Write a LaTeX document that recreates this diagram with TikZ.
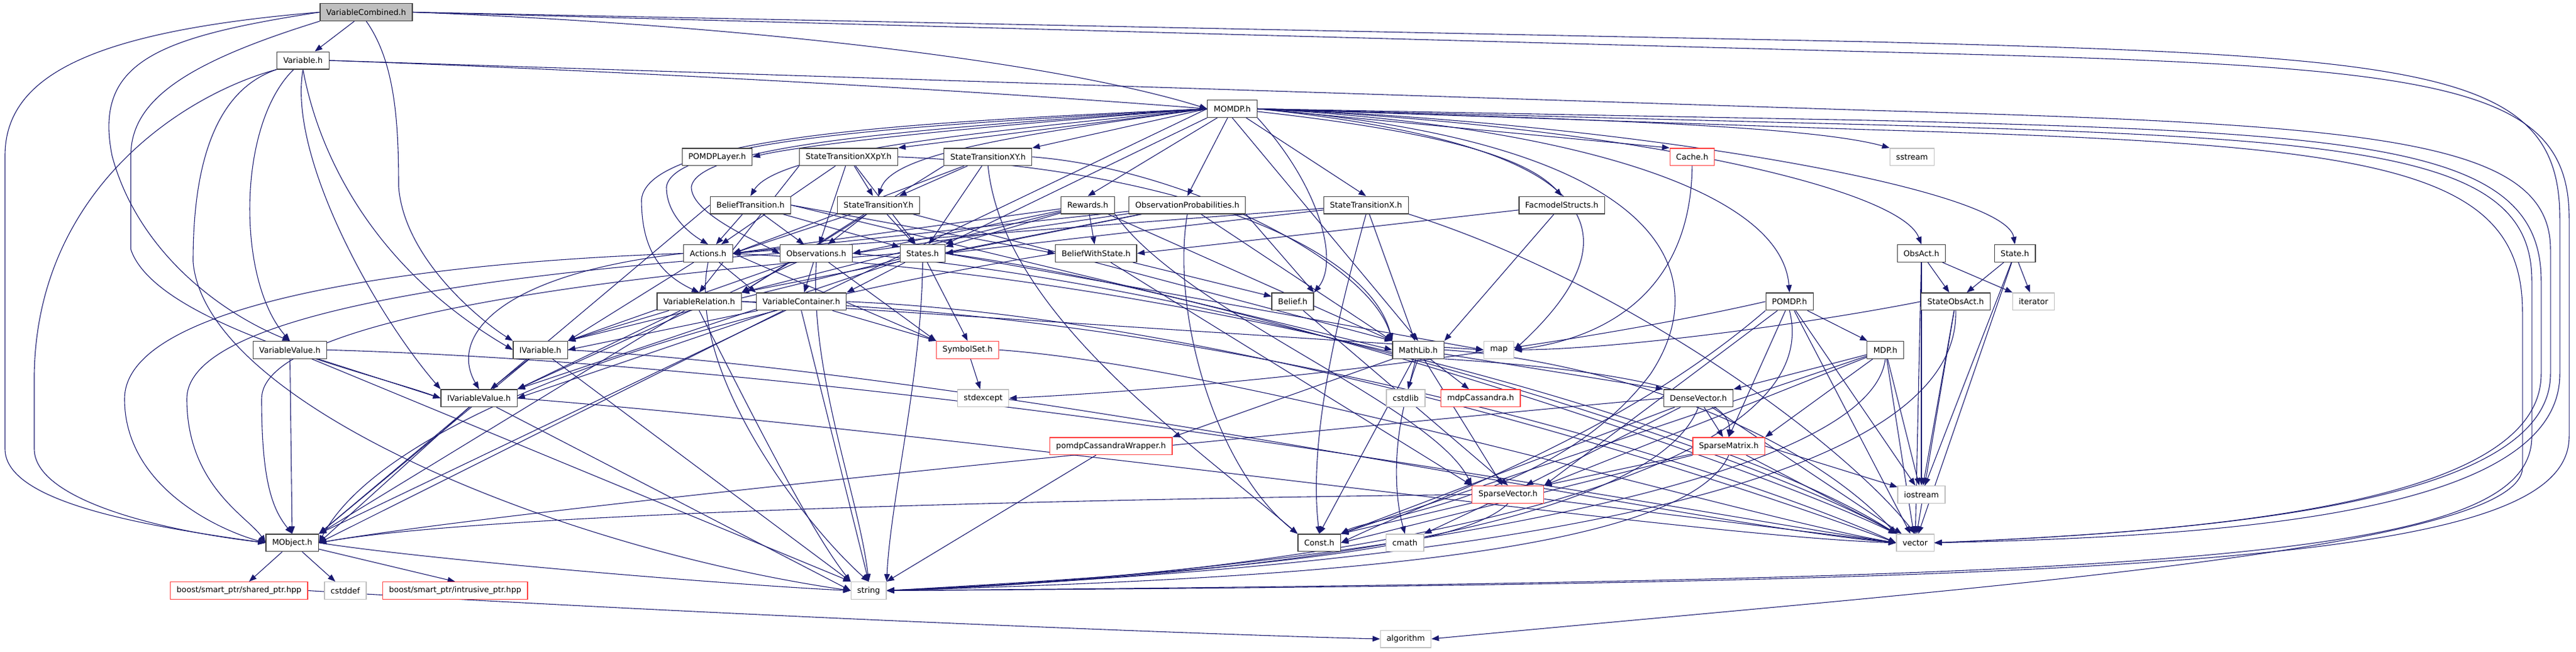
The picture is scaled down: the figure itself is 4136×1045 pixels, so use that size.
\documentclass[tikz,border=0pt]{standalone}
\usepackage{fontspec}
\setmainfont{DejaVu Sans}
\usetikzlibrary{arrows.meta}
\definecolor{edgec}{HTML}{191970}
\definecolor{boxc}{HTML}{404040}
\definecolor{redc}{HTML}{FF4040}
\definecolor{grayc}{HTML}{BFBFBF}
\pgfdeclarelayer{back}
\pgfdeclarelayer{bg}
\pgfsetlayers{back,bg,main}
\begin{document}
\begin{tikzpicture}[x=1pt,y=-1pt,
  every node/.style={font=\fontsize{12.7}{15}\selectfont, inner xsep=10pt, inner ysep=0pt, minimum height=27.7pt, anchor=center},
  nb/.style={draw=boxc, line width=1.3pt, fill=white},
  nr/.style={draw=redc, line width=1.3pt, fill=white},
  ng/.style={draw=grayc, line width=1.3pt, fill=white},
  nroot/.style={draw=boxc, line width=1.3pt, fill=grayc},
  edge/.style={draw=edgec, line width=1.1pt, -{Triangle[length=12pt,width=9pt]}},
]
\begin{pgfonlayer}{back}
\fill[white] (0,0) rectangle (4136,1045);
\end{pgfonlayer}
\useasboundingbox (0,0) rectangle (4136,1045);
% row 0-2
\node[nroot] (vc) at (588,19.5) {VariableCombined.h};
\node[nb] (var) at (486.5,97) {Variable.h};
\node[nb] (momdp) at (1978.5,174.5) {MOMDP.h};
% row 3
\node[nb] (player) at (1151.5,251.7) {POMDPLayer.h};
\node[nb] (stxxpy) at (1362.5,251.7) {StateTransitionXXpY.h};
\node[nb] (stxy) at (1586.3,251.7) {StateTransitionXY.h};
\node[nr] (cache) at (2717,251.7) {Cache.h};
\node[ng] (sstream) at (3070,251.7) {sstream};
% row 4
\node[nb] (btrans) at (1205,329) {BeliefTransition.h};
\node[nb] (sty) at (1410.6,329) {StateTransitionY.h};
\node[nb] (rewards) at (1746.5,329) {Rewards.h};
\node[nb] (obsprob) at (1906.3,329) {ObservationProbabilities.h};
\node[nb] (stx) at (2193.3,329) {StateTransitionX.h};
\node[nb] (facm) at (2507.6,329) {FacmodelStructs.h};
% row 5
\node[nb] (actions) at (1136.9,406.5) {Actions.h};
\node[nb] (observations) at (1310.6,406.5) {Observations.h};
\node[nb] (states) at (1481.3,406.5) {States.h};
\node[nb] (bws) at (1759.9,406.5) {BeliefWithState.h};
\node[nb] (obsact) at (3085,406.5) {ObsAct.h};
\node[nb] (state) at (3235,406.5) {State.h};
% row 6
\node[nb] (varrel) at (1122.6,483.8) {VariableRelation.h};
\node[nb] (varcont) at (1286.6,483.8) {VariableContainer.h};
\node[nb] (belief) at (2075.6,483.8) {Belief.h};
\node[nb] (pomdp) at (2873.2,483.8) {POMDP.h};
\node[nb] (soa) at (3140,483.8) {StateObsAct.h};
\node[ng] (iterator) at (3265,483.8) {iterator};
% row 7
\node[nb] (vval) at (465.4,561.3) {VariableValue.h};
\node[nb] (ivar) at (867.6,561.3) {IVariable.h};
\node[nr] (symset) at (1553.6,561.3) {SymbolSet.h};
\node[nb] (mathlib) at (2277.1,561.3) {MathLib.h};
\node[ng] (map) at (2406.6,561.3) {map};
\node[nb] (mdp) at (3027,561.3) {MDP.h};
% row 8
\node[nb] (ivval) at (769.1,638.8) {IVariableValue.h};
\node[ng] (stdexcept) at (1578.6,638.8) {stdexcept};
\node[ng] (cstdlib) at (2257,638.8) {cstdlib};
\node[nr] (mdpcass) at (2377.3,638.8) {mdpCassandra.h};
\node[nb] (dense) at (2726.9,638.8) {DenseVector.h};
% row 9
\node[nr] (pcw) at (1783.8,715.7) {pomdpCassandraWrapper.h};
\node[nr] (smat) at (2775.7,715.7) {SparseMatrix.h};
% row 10
\node[nr] (svec) at (2421.2,793.3) {SparseVector.h};
\node[ng] (iostream) at (3085,793.3) {iostream};
% row 11
\node[nb] (mobj) at (469.2,870.8) {MObject.h};
\node[nb] (const) at (2118.2,870.8) {Const.h};
\node[ng] (cmath) at (2255.8,870.8) {cmath};
\node[ng] (vector) at (3075,870.8) {vector};
% row 12
\node[nr] (shptr) at (383.8,947.5) {boost/smart\_ptr/shared\_ptr.hpp};
\node[ng] (cstddef) at (554.4,947.5) {cstddef};
\node[nr] (intptr) at (730.7,947.5) {boost/smart\_ptr/intrusive\_ptr.hpp};
\node[ng] (string) at (1394.7,947.5) {string};
% row 13
\node[ng] (algorithm) at (2257,1025) {algorithm};

\begin{pgfonlayer}{bg}
% VariableCombined
\draw[edge] (vc) -- (var);
\draw[edge] (vc.east) .. controls (1200,40) and (1700,100) .. (momdp.west);
\draw[edge] (vc.west) .. controls (150,50) and (8,120) .. (8,250) -- (8,720) .. controls (8,800) and (200,840) .. (mobj.west);
\draw[edge] (vc.west) .. controls (250,60) and (150,100) .. (180,250) .. controls (220,400) and (350,500) .. (vval.north);
\draw[edge] (vc.south west) .. controls (300,100) and (210,160) .. (210,250) -- (210,400) .. controls (250,520) and (600,600) .. (ivval.west);
\draw[edge] (vc.south) .. controls (635,100) and (640,200) .. (640,300) .. controls (650,420) and (780,520) .. (ivar.north west);
\draw[edge] (vc.east) -- (3000,67) .. controls (3900,90) and (4110,110) .. (4110,350) -- (4110,600) .. controls (4110,820) and (3600,860) .. (vector.east);
\draw[edge] (vc.east) -- (3000,83) .. controls (3900,105) and (4125,125) .. (4125,350) -- (4125,700) .. controls (4125,900) and (3500,935) .. (string.east);
% Variable
\draw[edge] (var.east) .. controls (900,110) and (1500,140) .. (momdp.west);
\draw[edge] (var.south west) .. controls (300,150) and (60,300) .. (55,600) -- (55,720) .. controls (55,800) and (250,850) .. (mobj.west);
\draw[edge] (var.south west) .. controls (330,150) and (310,300) .. (310,420) .. controls (330,650) and (900,880) .. (string.west);
\draw[edge] (var) .. controls (380,200) and (380,450) .. (vval.north);
\draw[edge] (var.south) .. controls (462,250) and (600,500) .. (ivval.north west);
\draw[edge] (var.south) .. controls (512,250) and (600,430) .. (ivar.west);
\draw[edge] (var.east) -- (3000,177) .. controls (3800,200) and (4095,220) .. (4095,400) -- (4095,600) .. controls (4095,800) and (3600,850) .. (vector.east);
% MOMDP
\draw[edge] (momdp.west) .. controls (1600,200) and (1300,230) .. (player.east);
\draw[edge] (momdp.west) -- (stxxpy.north east);
\draw[edge] (momdp.west) -- (stxy.north east);
\draw[edge] (momdp.west) .. controls (1600,220) and (1430,250) .. (sty.north);
\draw[edge] (momdp.west) .. controls (1600,210) and (1250,240) .. (btrans.north);
\draw[edge] (momdp) -- (rewards.north);
\draw[edge] (momdp) -- (obsprob.north);
\draw[edge] (momdp) -- (stx.north);
\draw[edge] (momdp) .. controls (2300,210) and (2450,250) .. (facm.north);
\draw[edge] (momdp.east) -- (cache.north west);
\draw[edge] (momdp.east) .. controls (2500,190) and (2900,200) .. (sstream.north west);
\draw[edge] (momdp.east) .. controls (2500,200) and (2860,300) .. (pomdp.north);
\draw[edge] (momdp.east) .. controls (2600,200) and (3050,300) .. (obsact.north);
\draw[edge] (momdp.east) .. controls (2600,195) and (3220,300) .. (state.north);
\draw[edge] (momdp.west) .. controls (1500,200) and (1080,220) .. (1070,300) .. controls (1070,340) and (1100,370) .. (actions.north);
\draw[edge] (momdp.west) .. controls (1500,205) and (1120,230) .. (1110,300) .. controls (1110,340) and (1200,380) .. (observations.west);
\draw[edge] (momdp.south west) -- (states.north east);
\draw[edge] (momdp.south east) .. controls (2120,300) and (2150,420) .. (belief.north east);
\draw[edge] (momdp.west) .. controls (1500,195) and (1040,215) .. (1030,320) .. controls (1030,400) and (1060,440) .. (varrel.north);
\draw[edge] (momdp.south) -- (mathlib.north);
\draw[edge] (momdp.east) .. controls (2550,230) and (2650,360) .. (map.east);
\draw[edge] (momdp.west) -- (mobj.north east);
\draw[edge] (momdp.east) .. controls (2700,230) and (2750,450) .. (2650,600) .. controls (2500,800) and (2200,830) .. (const.north east);
\draw[edge] (momdp.east) -- (3000,193) .. controls (3800,213) and (4080,230) .. (4080,450) -- (4080,600) .. controls (4080,800) and (3600,850) .. (vector.east);
\draw[edge] (momdp.east) -- (3000,200) .. controls (3800,222) and (4065,245) .. (4065,450) -- (4065,700) .. controls (4065,900) and (3500,930) .. (string.east);
\draw[edge] (momdp.east) -- (3000,208) .. controls (3800,232) and (4050,260) .. (4050,500) -- (4050,750) .. controls (4050,880) and (3200,940) .. (algorithm.east);
% state transitions etc.
\draw[edge] (stxxpy) -- (sty);
\draw[edge] (stxxpy) -- (actions);
\draw[edge] (stxxpy) -- (observations);
\draw[edge] (stxxpy) -- (states);
\draw[edge] (stxxpy.east) .. controls (1900,270) and (2200,400) .. (mathlib.north west);
\draw[edge] (stxxpy.south west) -- (varrel.north);
\draw[edge] (stxy) -- (sty);
\draw[edge] (stxy) -- (actions.east);
\draw[edge] (stxy) -- (states);
\draw[edge] (stxy.east) .. controls (1900,270) and (2200,420) .. (mathlib.north west);
\draw[edge] (stxy.south west) -- (varrel.north east);
\draw[edge] (stxy.south) .. controls (1610,500) and (1900,700) .. (const.north west);
\draw[edge] (btrans) -- (actions);
\draw[edge] (btrans) -- (observations);
\draw[edge] (btrans) -- (states);
\draw[edge] (btrans.east) -- (bws.west);
\draw[edge] (btrans.east) -- (mathlib.west);
\draw[edge] (btrans.west) -- (mobj.north east);
\draw[edge] (sty) -- (actions.east);
\draw[edge] (sty) -- (observations);
\draw[edge] (sty) -- (states);
\draw[edge] (sty) -- (mathlib.north west);
\draw[edge] (sty) -- (varrel.north east);
\draw[edge] (rewards) -- (actions.east);
\draw[edge] (rewards) -- (observations.east);
\draw[edge] (rewards) -- (states);
\draw[edge] (rewards) -- (bws);
\draw[edge] (rewards) -- (mathlib.north west);
\draw[edge] (rewards) -- (varrel.north east);
\draw[edge] (rewards.south east) .. controls (1900,500) and (2300,650) .. (svec.north west);
\draw[edge] (obsprob) -- (actions.east);
\draw[edge] (obsprob) -- (observations.east);
\draw[edge] (obsprob) -- (states.east);
\draw[edge] (obsprob) -- (mathlib.north west);
\draw[edge] (obsprob.south east) -- (belief.north east);
\draw[edge] (obsprob.south) .. controls (1880,500) and (1950,750) .. (const.north west);
\draw[edge] (obsprob) -- (varrel.north east);
\draw[edge] (stx) -- (actions.east);
\draw[edge] (stx) -- (states.east);
\draw[edge] (stx) -- (mathlib);
\draw[edge] (stx.south east) .. controls (2600,450) and (2950,700) .. (vector.north);
\draw[edge] (stx.south) .. controls (2150,500) and (2100,700) .. (const.north);
\draw[edge] (facm) -- (mathlib.north east);
\draw[edge] (facm) -- (bws.east);
\draw[edge] (cache) .. controls (2715,450) and (2600,540) .. (map.east);
% POMDP/MDP
\draw[edge] (pomdp) -- (mdp);
\draw[edge] (pomdp) -- (smat.north);
\draw[edge] (pomdp) -- (svec.north east);
\draw[edge] (pomdp.south west) .. controls (2600,700) and (2300,800) .. (const.east);
\draw[edge] (pomdp) -- (vector);
\draw[edge] (pomdp) -- (iostream);
\draw[edge] (pomdp.west) .. controls (2500,560) and (2000,620) .. (stdexcept.east);
\draw[edge] (pomdp.south) .. controls (2950,800) and (2000,930) .. (string.east);
\draw[edge] (mdp) -- (dense.north east);
\draw[edge] (mdp) -- (smat.north east);
\draw[edge] (mdp) -- (svec.north east);
\draw[edge] (mdp) -- (const.north east);
\draw[edge] (mdp) -- (vector);
\draw[edge] (mdp) -- (iostream);
\draw[edge] (mdp.south) .. controls (3000,800) and (2000,925) .. (string.east);
% ObsAct / State
\draw[edge] (obsact) -- (soa);
\draw[edge] (obsact) -- (iterator);
\draw[edge] (obsact) -- (iostream);
\draw[edge] (obsact) -- (vector);
\draw[edge] (state) -- (soa);
\draw[edge] (state) -- (iterator);
\draw[edge] (state) -- (iostream);
\draw[edge] (state) -- (vector);
\draw[edge] (soa.west) .. controls (2900,520) and (2600,560) .. (map.east);
\draw[edge] (soa) -- (iostream);
\draw[edge] (soa) -- (vector);
\draw[edge] (soa.south) .. controls (3150,850) and (2000,920) .. (string.east);
% Actions, Observations, States
\draw[edge] (actions.west) .. controls (700,420) and (200,480) .. (200,640) .. controls (200,780) and (350,850) .. (mobj.west);
\draw[edge] (actions) -- (varcont.north west);
\draw[edge] (actions) -- (ivar.north east);
\draw[edge] (actions.west) .. controls (800,440) and (720,540) .. (ivval.north);
\draw[edge] (actions.east) -- (symset.north west);
\draw[edge] (actions.south) .. controls (1100,600) and (1300,850) .. (string.north);
\draw[edge] (actions.east) .. controls (2000,450) and (2800,700) .. (vector.north west);
\draw[edge] (observations.west) .. controls (800,440) and (300,500) .. (300,640) .. controls (300,780) and (400,830) .. (mobj.west);
\draw[edge] (observations) -- (varcont);
\draw[edge] (observations) -- (ivar.north east);
\draw[edge] (observations) -- (ivval.north east);
\draw[edge] (observations) -- (symset.north west);
\draw[edge] (observations.south) .. controls (1300,600) and (1380,800) .. (string.north);
\draw[edge] (observations.east) .. controls (2000,460) and (2800,720) .. (vector.north west);
\draw[edge] (states.west) .. controls (900,450) and (420,520) .. (420,640) .. controls (420,780) and (440,820) .. (mobj.north);
\draw[edge] (states) -- (varcont.north east);
\draw[edge] (states) -- (ivar.north east);
\draw[edge] (states) -- (ivval.north east);
\draw[edge] (states) -- (symset.north);
\draw[edge] (states.south) .. controls (1480,600) and (1430,800) .. (string.north east);
\draw[edge] (states.east) .. controls (2000,470) and (2800,740) .. (vector.north west);
\draw[edge] (states.east) -- (map.west);
% belief
\draw[edge] (bws) -- (belief);
\draw[edge] (bws) -- (svec.north west);
\draw[edge] (bws.west) .. controls (1000,520) and (600,700) .. (mobj.east);
\draw[edge] (belief) -- (svec.north);
% VariableRelation / Container
\draw[edge] (varrel) -- (ivar.north east);
\draw[edge] (varrel) -- (ivval.north east);
\draw[edge] (varrel) -- (mobj.north east);
\draw[edge] (varrel.south) .. controls (1200,650) and (1300,850) .. (string.north west);
\draw[edge] (varrel.east) .. controls (2000,500) and (2800,760) .. (vector.west);
\draw[edge] (varrel.east) -- (map.west);
\draw[edge] (varcont) -- (ivar.east);
\draw[edge] (varcont) -- (ivval.east);
\draw[edge] (varcont) -- (mobj.east);
\draw[edge] (varcont.south) -- (string.north);
\draw[edge] (varcont.east) .. controls (2000,510) and (2800,780) .. (vector.west);
\draw[edge] (varcont) -- (symset);
% Variable values
\draw[edge] (vval) -- (ivval.west);
\draw[edge] (vval) -- (mobj);
\draw[edge] (vval) -- (string.north west);
\draw[edge] (vval.east) .. controls (1500,590) and (2700,820) .. (vector.west);
\draw[edge] (ivar) -- (ivval);
\draw[edge] (ivar) -- (mobj.north east);
\draw[edge] (ivar) -- (string.north west);
\draw[edge] (ivar.east) .. controls (1600,600) and (2700,840) .. (vector.west);
\draw[edge] (ivval) -- (mobj.east);
\draw[edge] (ivval) -- (string.west);
\draw[edge] (ivval.east) .. controls (1600,700) and (2700,860) .. (vector.west);
\draw[edge] (symset) -- (stdexcept);
\draw[edge] (symset.east) .. controls (2000,590) and (2800,830) .. (vector.west);
% MathLib
\draw[edge] (mathlib) -- (cstdlib);
\draw[edge] (mathlib) -- (mdpcass);
\draw[edge] (mathlib) -- (dense.north west);
\draw[edge] (mathlib.south east) .. controls (2700,600) and (2780,650) .. (smat.north);
\draw[edge] (mathlib) -- (svec);
\draw[edge] (mathlib) -- (pcw.north east);
\draw[edge] (mathlib.south) .. controls (2230,700) and (2240,800) .. (cmath.north);
\draw[edge] (mathlib) -- (const.north);
\draw[edge] (mathlib.east) .. controls (2600,580) and (2900,700) .. (vector.north west);
% vectors / matrices
\draw[edge] (dense) -- (smat);
\draw[edge] (dense) -- (svec);
\draw[edge] (dense) -- (const.north east);
\draw[edge] (dense.west) .. controls (2000,700) and (800,820) .. (mobj.east);
\draw[edge] (dense) -- (vector);
\draw[edge] (dense.south) .. controls (2650,850) and (2000,925) .. (string.east);
\draw[edge] (smat) -- (svec.north east);
\draw[edge] (smat) -- (const.east);
\draw[edge] (smat) -- (vector);
\draw[edge] (smat.east) -- (iostream);
\draw[edge] (smat.south) .. controls (2700,900) and (2000,930) .. (string.east);
\draw[edge] (svec) -- (const.north east);
\draw[edge] (svec) -- (cmath.north east);
\draw[edge] (svec.west) .. controls (1800,800) and (800,820) .. (mobj.east);
\draw[edge] (svec) -- (vector.west);
\draw[edge] (svec.south) .. controls (2350,880) and (2000,915) .. (string.east);
\draw[edge] (pcw) -- (string.north east);
% MObject
\draw[edge] (mobj) -- (shptr);
\draw[edge] (mobj) -- (cstddef);
\draw[edge] (mobj) -- (intptr.north);
\draw[edge] (mobj.east) .. controls (700,900) and (1200,940) .. (string.west);
\draw[edge] (shptr.east) .. controls (1200,990) and (2000,1020) .. (algorithm.west);
\end{pgfonlayer}
\end{tikzpicture}
\end{document}
